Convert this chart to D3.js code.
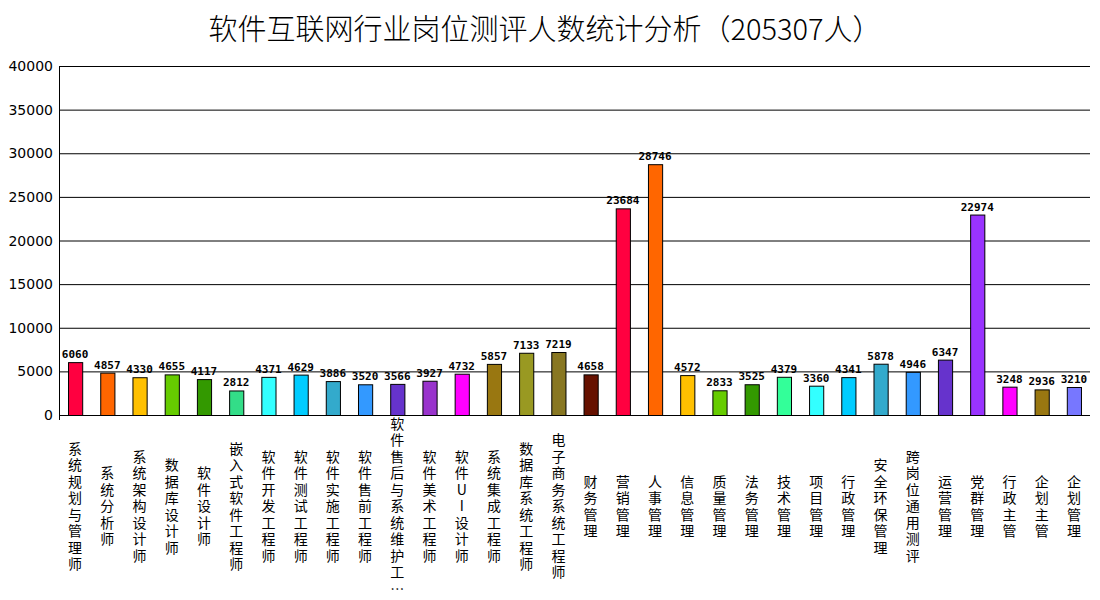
<!DOCTYPE html>
<html>
<script src="https://cdn.jsdelivr.net/npm/d3@7"></script>
<style>
  body, html { margin: 0; padding: 0; background: #fff; }
  svg { font-family: "Noto Sans CJK SC", sans-serif; }
</style>
<body>
<svg width="1100" height="600"></svg>
<script>
  var categories = ['系统规划与管理师', '系统分析师', '系统架构设计师', '数据库设计师', '软件设计师', '嵌入式软件工程师',
    '软件开发工程师', '软件测试工程师', '软件实施工程师', '软件售前工程师', '软件售后与系统维护工...', '软件美术工程师',
    '软件UI设计师', '系统集成工程师', '数据库系统工程师', '电子商务系统工程师', '财务管理', '营销管理', '人事管理',
    '信息管理', '质量管理', '法务管理', '技术管理', '项目管理', '行政管理', '安全环保管理', '跨岗位通用测评',
    '运营管理', '党群管理', '行政主管', '企划主管', '企划管理'];
  var values = [6060, 4857, 4330, 4655, 4117, 2812, 4371, 4629, 3886, 3520, 3566, 3927, 4732, 5857, 7133, 7219,
    4658, 23684, 28746, 4572, 2833, 3525, 4379, 3360, 4341, 5878, 4946, 6347, 22974, 3248, 2936, 3210];
  var colors = ['#ff0040', '#ff6600', '#ffc000', '#66cc00', '#339900', '#33dd88', '#33ffff', '#00ccff', '#33aacc',
    '#3399ff', '#6633cc', '#9933cc', '#ff00ff', '#997711', '#999922', '#887722', '#661100',
    '#ff0040', '#ff6600', '#ffc000', '#66cc00', '#339900', '#33ff99', '#33ffff', '#00ccff', '#33aacc',
    '#3399ff', '#6633cc', '#9933ff', '#ff00ff', '#997711', '#7777ff'];
  var yTicks = d3.range(0, 40001, 5000);

  var svg = d3.select('svg');
  var x = d3.scaleBand().domain(categories).range([59, 1090]).paddingInner(0.56).paddingOuter(0.28);
  var y = d3.scaleLinear().domain([0, 40000]).range([415, 66]);

  svg.append('text').attr('x', 545).attr('y', 40).attr('text-anchor', 'middle')
    .attr('font-size', 29).attr('font-weight', 300).text('软件互联网行业岗位测评人数统计分析（205307人）');

  svg.append('g').selectAll('line').data(yTicks).join('line')
    .attr('x1', 59).attr('x2', 1090).attr('y1', d => y(d) + 0.5).attr('y2', d => y(d) + 0.5)
    .attr('stroke', '#000');
  svg.append('line').attr('x1', 59.5).attr('x2', 59.5).attr('y1', 66).attr('y2', 420).attr('stroke', '#000');
  svg.append('g').selectAll('text').data(yTicks).join('text')
    .attr('x', 53).attr('y', d => y(d) + 5).attr('text-anchor', 'end').attr('font-size', 14)
    .attr('font-family', 'DejaVu Sans').text(d => d);

  svg.append('g').selectAll('rect').data(values).join('rect')
    .attr('x', (d, i) => x(categories[i]) + 0.5).attr('y', d => y(d) + 0.5)
    .attr('width', x.bandwidth()).attr('height', d => y(0) - y(d))
    .attr('fill', (d, i) => colors[i]).attr('stroke', '#000');

  svg.append('g').selectAll('text').data(values).join('text')
    .attr('x', (d, i) => x(categories[i]) + x.bandwidth() / 2).attr('y', d => y(d) - 4)
    .attr('text-anchor', 'middle').attr('font-size', 11).attr('font-weight', 'bold')
    .attr('font-family', 'DejaVu Sans Mono').text(d => d);

  var lab = svg.append('g').selectAll('g').data(categories).join('g')
    .attr('transform', d => 'translate(' + (x(d) + x.bandwidth() / 2) + ',0)');
  lab.each(function (d) {
    var chars = Array.from(d.replace('...', '…'));
    var h = 16.5, top = 506 - chars.length * h / 2;
    d3.select(this).selectAll('text').data(chars).join('text')
      .attr('x', 0).attr('y', (c, j) => top + (j + 1) * h - 3)
      .attr('text-anchor', 'middle').attr('font-size', 14).text(c => c);
  });
</script>
</body>
</html>
